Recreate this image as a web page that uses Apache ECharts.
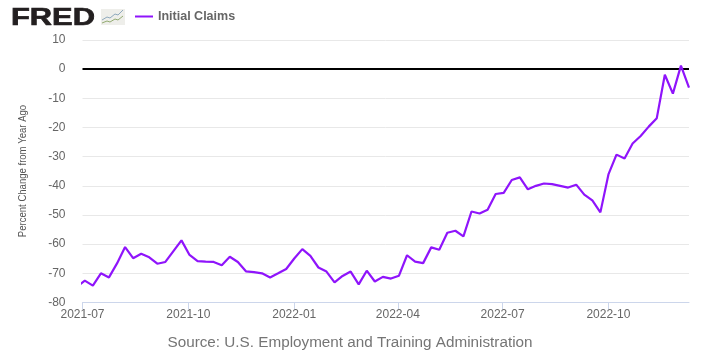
<!DOCTYPE html>
<html><head><meta charset="utf-8">
<style>html,body{margin:0;padding:0;background:#fff}#c{width:712px;height:364px}</style>
<script src="https://cdn.jsdelivr.net/npm/echarts@6/dist/echarts.min.js"></script>
</head><body><div id="c"></div>
<script>
const seriesName = 'Initial Claims';
const sourceText = 'Source: U.S. Employment and Training Administration';
const yAxisTitle = 'Percent Change from Year Ago';
const firstWeek = '2021-06-26';
const tickDates = ['2021-07-01','2021-10-01','2022-01-01','2022-04-01','2022-07-01','2022-10-01'];
const claimsPctChange = [
 -74.6,-72.5,-74.2,-70.0,-71.4,-66.6,-61.0,-64.8,-63.3,-64.5,-66.7,-66.1,-62.4,-58.7,-63.7,
 -65.8,-66.0,-66.1,-67.2,-64.3,-66.1,-69.3,-69.6,-70.0,-71.4,-70.0,-68.5,-64.9,-61.7,-64.0,
 -68.0,-69.4,-73.1,-70.9,-69.4,-73.8,-69.1,-72.8,-71.2,-71.8,-70.8,-63.8,-66.0,-66.5,-61.1,
 -61.9,-56.1,-55.4,-57.3,-48.8,-49.5,-48.2,-42.8,-42.4,-38.0,-37.1,-41.2,-40.0,-39.2,-39.4,
 -40.0,-40.6,-39.6,-43.0,-45.0,-49.1,-36.1,-29.3,-30.6,-25.5,-22.9,-19.7,-16.8,-1.9,-8.4,1.2,-6.3
];
const DAY = 86400000;
const t0 = Date.parse(firstWeek + 'T00:00:00Z');
const points = claimsPctChange.map((v, i) => [t0 + i * 7 * DAY, v]);
const ticks = tickDates.map(d => Date.parse(d + 'T00:00:00Z'));
const lineColor = '#8f14fb';
const chart = echarts.init(document.getElementById('c'), null, {renderer: 'canvas'});
chart.setOption({
  animation: false,
  backgroundColor: '#fff',
  grid: {left: 82.5, right: 23, top: 40, bottom: 61.5, containLabel: false},
  legend: {
    left: 130, top: 5, itemWidth: 18, itemHeight: 2, icon: 'rect', itemGap: 5,
    data: [seriesName],
    textStyle: {color: '#666', fontFamily: 'Liberation Sans', fontSize: 12.5, fontWeight: 'bold'}
  },
  xAxis: {
    type: 'value',
    min: ticks[0],
    max: points[points.length - 1][0],
    axisLine: {show: true, onZero: false, lineStyle: {color: '#ccd6eb', width: 1}},
    axisTick: {show: true, length: 7, lineStyle: {color: '#ccd6eb'}, customValues: ticks},
    splitLine: {show: false},
    axisLabel: {
      color: '#666', fontFamily: 'Liberation Sans', fontSize: 12, margin: 6, hideOverlap: false,
      customValues: ticks,
      formatter: v => { const d = new Date(v); return d.getUTCFullYear() + '-' + String(d.getUTCMonth() + 1).padStart(2, '0'); }
    }
  },
  yAxis: {
    type: 'value', min: -80, max: 10, interval: 10,
    axisLine: {show: false}, axisTick: {show: false},
    axisLabel: {color: '#666', fontFamily: 'Liberation Sans', fontSize: 12, margin: 17, padding: [2, 0, 0, 0]},
    splitLine: {show: true, lineStyle: {color: '#e8e8e8', width: 1}}
  },
  series: [{
    name: seriesName, type: 'line', data: points, clip: true, showSymbol: false, symbol: 'none',
    lineStyle: {color: lineColor, width: 2.2}, itemStyle: {color: lineColor}, z: 3,
    markLine: {
      silent: true, symbol: 'none', animation: false, label: {show: false},
      lineStyle: {color: '#000', width: 2, type: 'solid'},
      data: [{yAxis: 0}], z: 2
    }
  }],
  graphic: [
    {type: 'text', x: 11, y: 19, z: 10, scaleX: 1.34, style: {text: 'FRED', fill: '#231f20', stroke: '#231f20', lineWidth: 0.7, textVerticalAlign: 'middle', font: 'bold 23px "Liberation Sans"'}},
    {type: 'rect', z: 9, shape: {x: 101, y: 9, width: 24, height: 16}, style: {fill: '#eeeeea'}},
    {type: 'polyline', z: 10, shape: {points: [[102,20],[107,17],[110,18],[115,14],[118,15],[123,10]]}, style: {stroke: '#8fa9bd', fill: null, lineWidth: 1}},
    {type: 'polyline', z: 10, shape: {points: [[102,23],[107,21],[110,22],[115,19],[118,20],[123,16]]}, style: {stroke: '#93ab72', fill: null, lineWidth: 1}},
    {type: 'text', x: 23, y: 171, rotation: Math.PI / 2, scaleX: 0.83, style: {text: yAxisTitle, fill: '#555', textAlign: 'center', textVerticalAlign: 'middle', font: '11.5px "Liberation Sans"'}},
    {type: 'text', x: 350, y: 343.5, scaleX: 1.09, style: {text: sourceText, fill: '#757575', textAlign: 'center', textVerticalAlign: 'middle', font: '14px "Liberation Sans"'}}
  ]
});
</script></body></html>
